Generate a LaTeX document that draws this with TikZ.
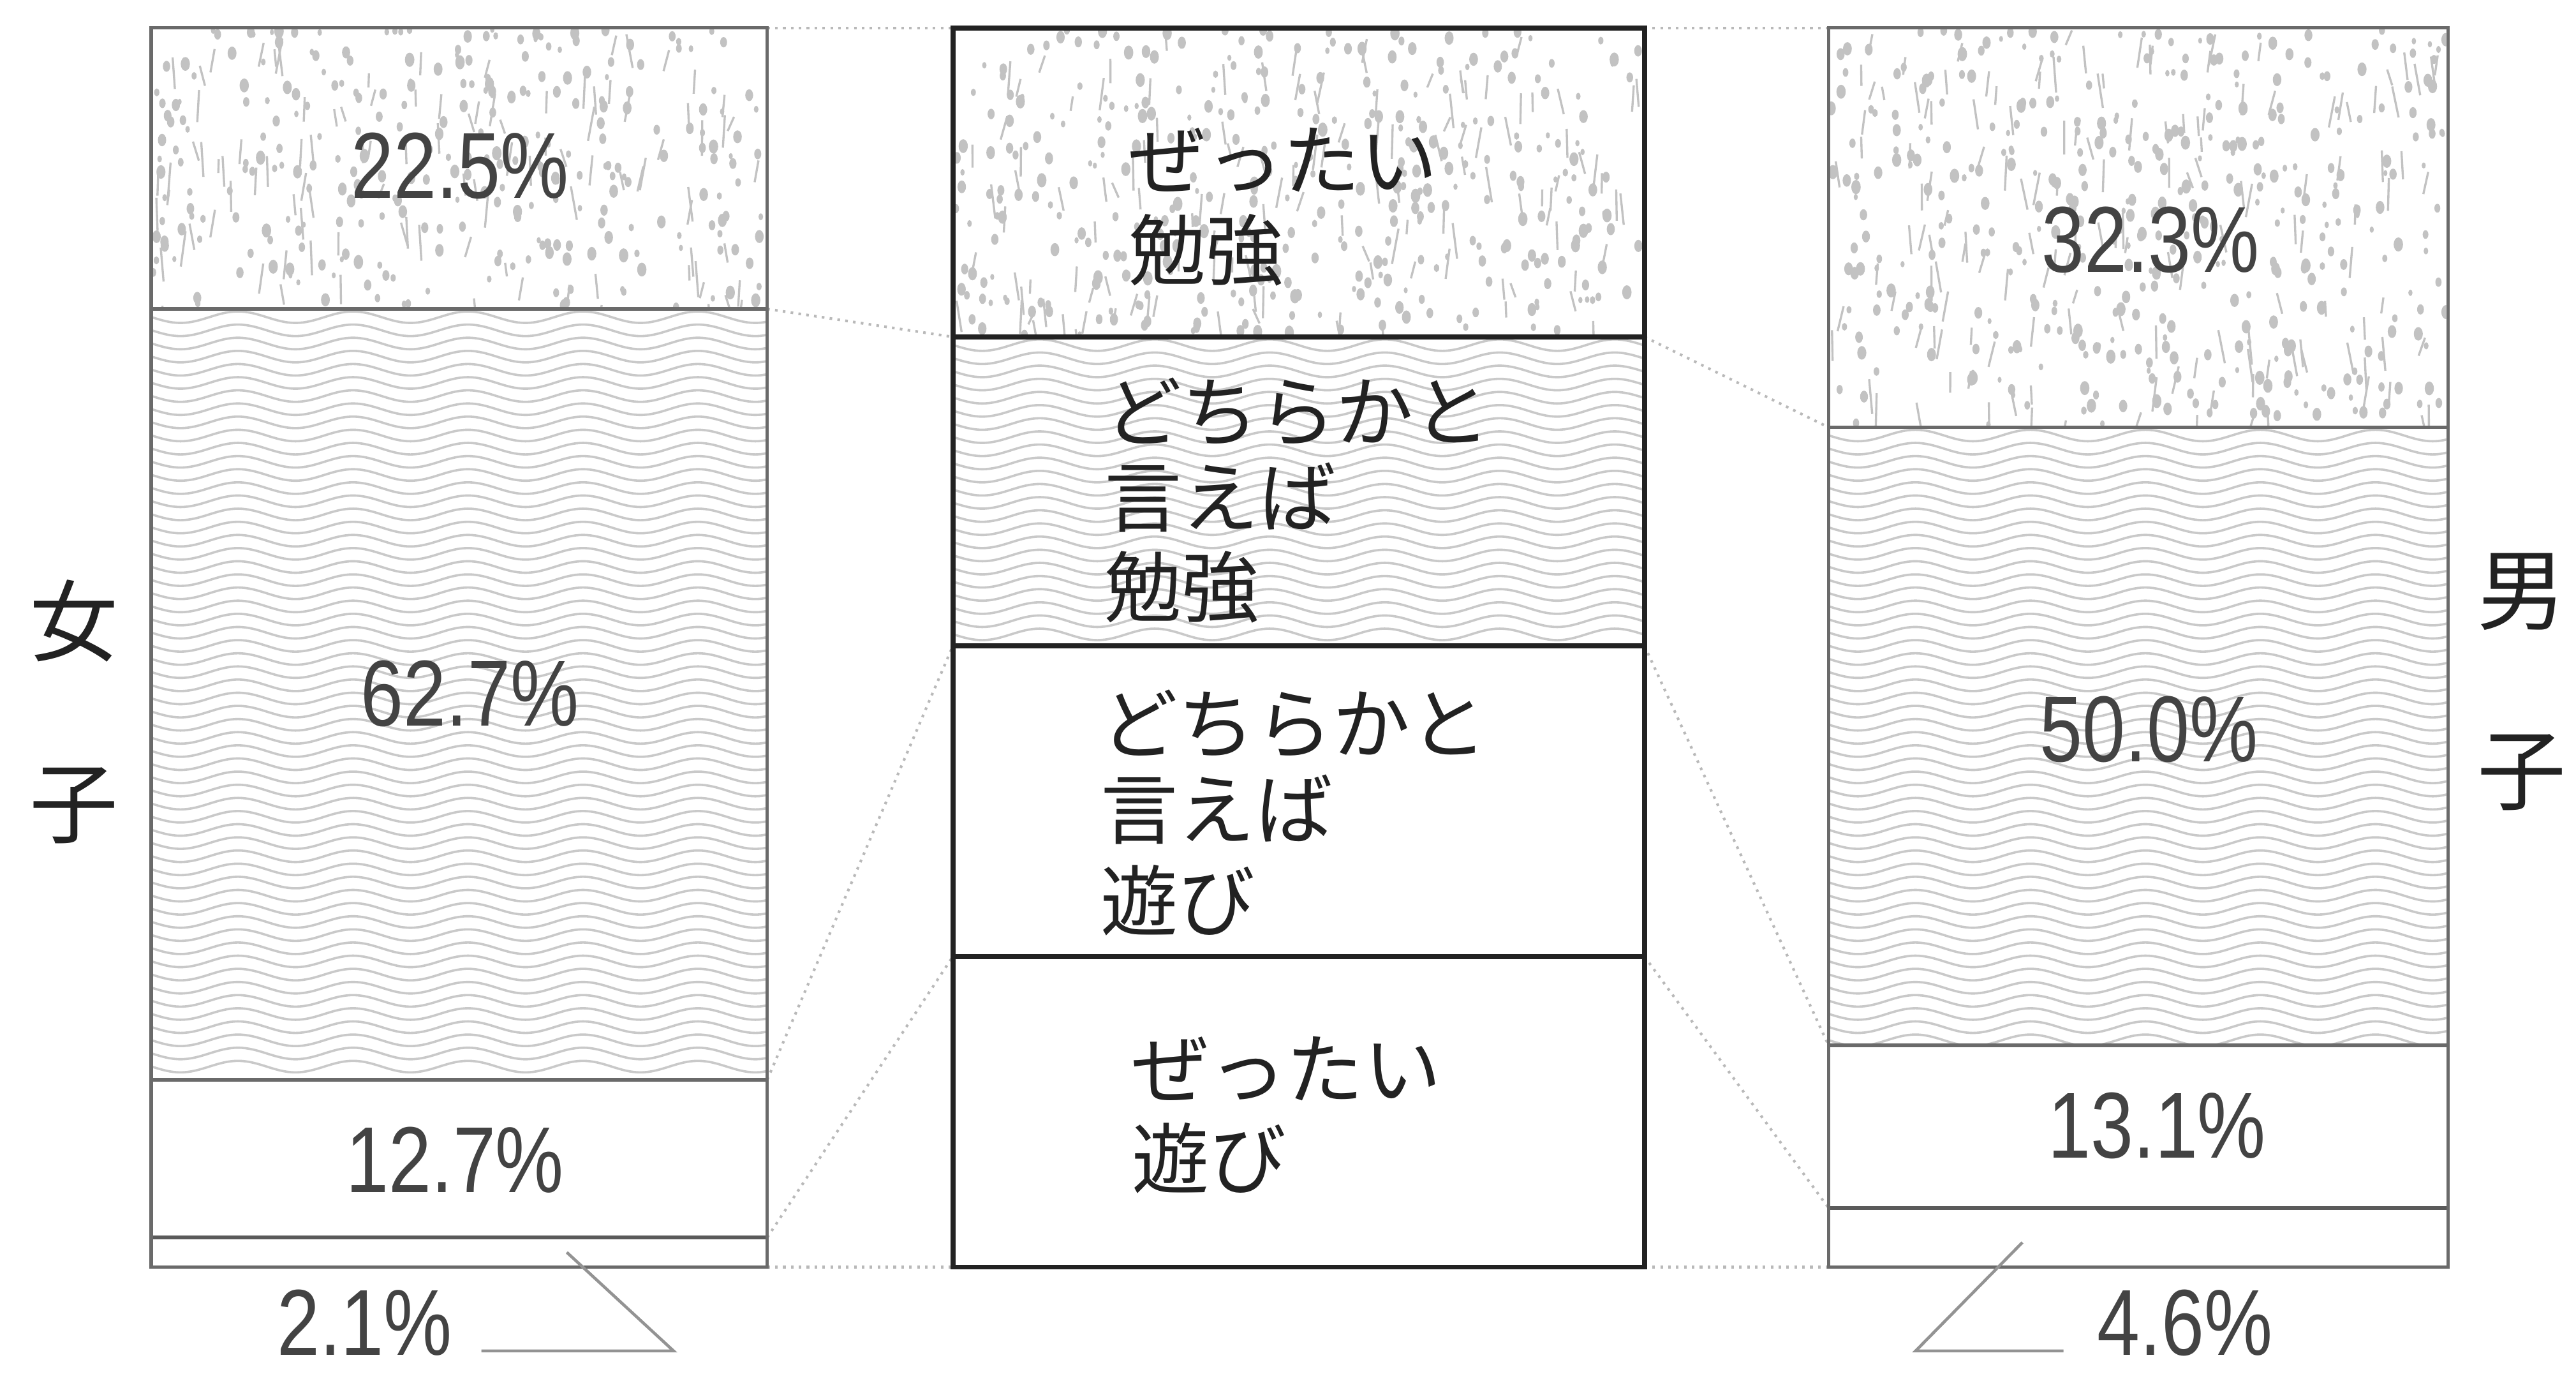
\documentclass[tikz,border=0pt]{standalone}
\usepackage{fontspec}
\setmainfont{Liberation Sans}
\newfontfamily\pctfont[FakeStretch=0.82]{Liberation Sans}
\newfontfamily\jpfont{Noto Sans CJK JP}
\usetikzlibrary{decorations.pathmorphing}

\definecolor{ink}{HTML}{222222}
\definecolor{barline}{HTML}{6A6A6A}
\definecolor{speck}{HTML}{C2C2C2}
\definecolor{wavec}{HTML}{C9C9C9}

\tikzset{
  pct/.style={font=\pctfont\fontsize{57}{60}\selectfont, text=ink!85, inner sep=0pt},
  jl/.style={font=\jpfont\fontsize{47}{54}\selectfont, text=ink, inner sep=0pt, anchor=base west},
  sidel/.style={font=\jpfont\fontsize{54}{60}\selectfont, text=ink, inner sep=0pt},
  sidebar/.style={draw=barline, line width=2pt},
  sidediv/.style={draw=barline, line width=2.2pt},
  midbar/.style={draw=ink, line width=3pt},
  conn/.style={draw=gray!55, line width=1.6pt, dash pattern=on 1.6pt off 3.2pt},
  callout/.style={draw=gray!85, line width=1.8pt},
  speckdot/.style={fill=speck},
  speckline/.style={draw=speck, line width=1.3pt},
  wavy/.style={draw=wavec, line width=1.4pt, decorate, decoration={snake, amplitude=3.5pt, segment length=70pt}}
}

\newcommand\mySpeckle[5]{%
  \begin{scope}
    \clip (#1,#2) rectangle (#3,#4);
    \pgfmathsetseed{#5}
    \pgfmathsetmacro\spw{#3-#1}
    \pgfmathsetmacro\sph{#4-#2}
    \pgfmathtruncatemacro\spn{(\spw/10)*(\sph/22)}
    \foreach \k in {1,...,\spn}{
      \pgfmathsetmacro\px{#1+rnd*\spw}
      \pgfmathsetmacro\py{#2+rnd*\sph}
      \pgfmathsetmacro\pr{1.2+rnd*1.7}
      \fill[speckdot] (\px,\py) ellipse ({\pr} and {\pr*1.5});
    }
    \pgfmathtruncatemacro\spm{(\spw/10)*(\sph/60)}
    \foreach \k in {1,...,\spm}{
      \pgfmathsetmacro\px{#1+rnd*\spw}
      \pgfmathsetmacro\py{#2+rnd*\sph}
      \pgfmathsetmacro\pl{8+rnd*14}
      \pgfmathsetmacro\pd{-4+rnd*8}
      \draw[speckline] (\px,\py) -- ++(\pd,\pl);
    }
  \end{scope}}

\newcommand\myWaves[4]{%
  \begin{scope}
    \clip (#1,#2) rectangle (#3,#4);
    \pgfmathsetmacro\wya{#2+4}
    \pgfmathsetmacro\wyb{#2+12}
    \pgfmathsetmacro\wxa{#1-40}
    \pgfmathsetmacro\wxb{#3+40}
    \foreach \yy in {\wya,\wyb,...,#4}{
      \draw[wavy] (\wxa,\yy) -- (\wxb,\yy);
    }
  \end{scope}}

\begin{document}
\begin{tikzpicture}[x=1pt,y=-1pt]
\useasboundingbox[fill=white] (0,0) rectangle (1568,840);

% ---------- patterns ----------
\mySpeckle{93}{18}{466}{187}{11}
\mySpeckle{581}{18}{1000}{204}{23}
\mySpeckle{1114}{18}{1489}{259}{37}
\myWaves{93}{189}{466}{656}
\myWaves{581}{206}{1000}{392}
\myWaves{1114}{261}{1489}{635}

% ---------- named coordinates ----------
% left bar (girls)
\coordinate (La0) at (92,17);   \coordinate (L0) at (467,17);
\coordinate (La1) at (92,188);  \coordinate (L1) at (467,188);
\coordinate (La2) at (92,657);  \coordinate (L2) at (467,657);
\coordinate (La3) at (92,753);  \coordinate (L3) at (467,753);
\coordinate (La4) at (92,771);  \coordinate (L4) at (467,771);
% middle bar
\coordinate (Ml0) at (580,17);  \coordinate (Mr0) at (1001,17);
\coordinate (Ml1) at (580,205); \coordinate (Mr1) at (1001,205);
\coordinate (Ml2) at (580,393); \coordinate (Mr2) at (1001,393);
\coordinate (Ml3) at (580,582); \coordinate (Mr3) at (1001,582);
\coordinate (Ml4) at (580,771); \coordinate (Mr4) at (1001,771);
% right bar (boys)
\coordinate (R0) at (1113,17);  \coordinate (Rb0) at (1490,17);
\coordinate (R1) at (1113,260); \coordinate (Rb1) at (1490,260);
\coordinate (R2) at (1113,636); \coordinate (Rb2) at (1490,636);
\coordinate (R3) at (1113,735); \coordinate (Rb3) at (1490,735);
\coordinate (R4) at (1113,771); \coordinate (Rb4) at (1490,771);

% ---------- dotted connectors ----------
\draw[conn] (L0) -- (Ml0);
\draw[conn] (L1) -- (Ml1);
\draw[conn] (L2) -- (Ml2);
\draw[conn] (L3) -- (Ml3);
\draw[conn] (L4) -- (Ml4);
\draw[conn] (Mr0) -- (R0);
\draw[conn] (Mr1) -- (R1);
\draw[conn] (Mr2) -- (R2);
\draw[conn] (Mr3) -- (R3);
\draw[conn] (Mr4) -- (R4);

% ---------- bars ----------
\draw[sidediv] (La1) -- (L1);
\draw[sidediv] (La2) -- (L2);
\draw[sidediv, draw=barline!85!black] (La3) -- (L3);
\draw[sidebar] (La0) rectangle (L4);

\draw[midbar] (Ml1) -- (Mr1);
\draw[midbar] (Ml2) -- (Mr2);
\draw[midbar] (Ml3) -- (Mr3);
\draw[midbar] (Ml0) rectangle (Mr4);

\draw[sidediv] (R1) -- (Rb1);
\draw[sidediv] (R2) -- (Rb2);
\draw[sidediv, draw=barline!85!black] (R3) -- (Rb3);
\draw[sidebar] (R0) rectangle (Rb4);

% ---------- percentages ----------
\node[pct] (g1) at (280,101) {22.5\%};
\node[pct] (g2) at (286,422) {62.7\%};
\node[pct] (g3) at (277,706) {12.7\%};
\node[pct] (g4) at (222,805) {2.1\%};
\node[pct] (b1) at (1309,146) {32.3\%};
\node[pct] (b2) at (1308,444) {50.0\%};
\node[pct] (b3) at (1313,685) {13.1\%};
\node[pct] (b4) at (1330,805) {4.6\%};

% ---------- callouts ----------
\coordinate (g4s) at (345,762);
\coordinate (g4k) at (410,822);
\coordinate (g4e) at (293,822);
\draw[callout] (g4s) -- (g4k) -- (g4e);
\coordinate (b4s) at (1231,756);
\coordinate (b4k) at (1166,822);
\coordinate (b4e) at (1256,822);
\draw[callout] (b4s) -- (b4k) -- (b4e);

% ---------- middle labels ----------
\node[jl] (m1a) at (687,115) {ぜったい};
\node[jl] (m1b) at (687,170) {勉強};
\node[jl] (m2a) at (672,268) {どちらかと};
\node[jl] (m2b) at (672,320) {言えば};
\node[jl] (m2c) at (672,375) {勉強};
\node[jl] (m3a) at (670,458) {どちらかと};
\node[jl] (m3b) at (670,510) {言えば};
\node[jl] (m3c) at (670,566) {遊び};
\node[jl] (m4a) at (689,668) {ぜったい};
\node[jl] (m4b) at (689,723) {遊び};

% ---------- side labels ----------
\node[sidel] (f1) at (45,378) {女};
\node[sidel] (f2) at (45,490) {子};
\node[sidel] (k1) at (1535,360) {男};
\node[sidel] (k2) at (1535,470) {子};
\end{tikzpicture}
\end{document}
